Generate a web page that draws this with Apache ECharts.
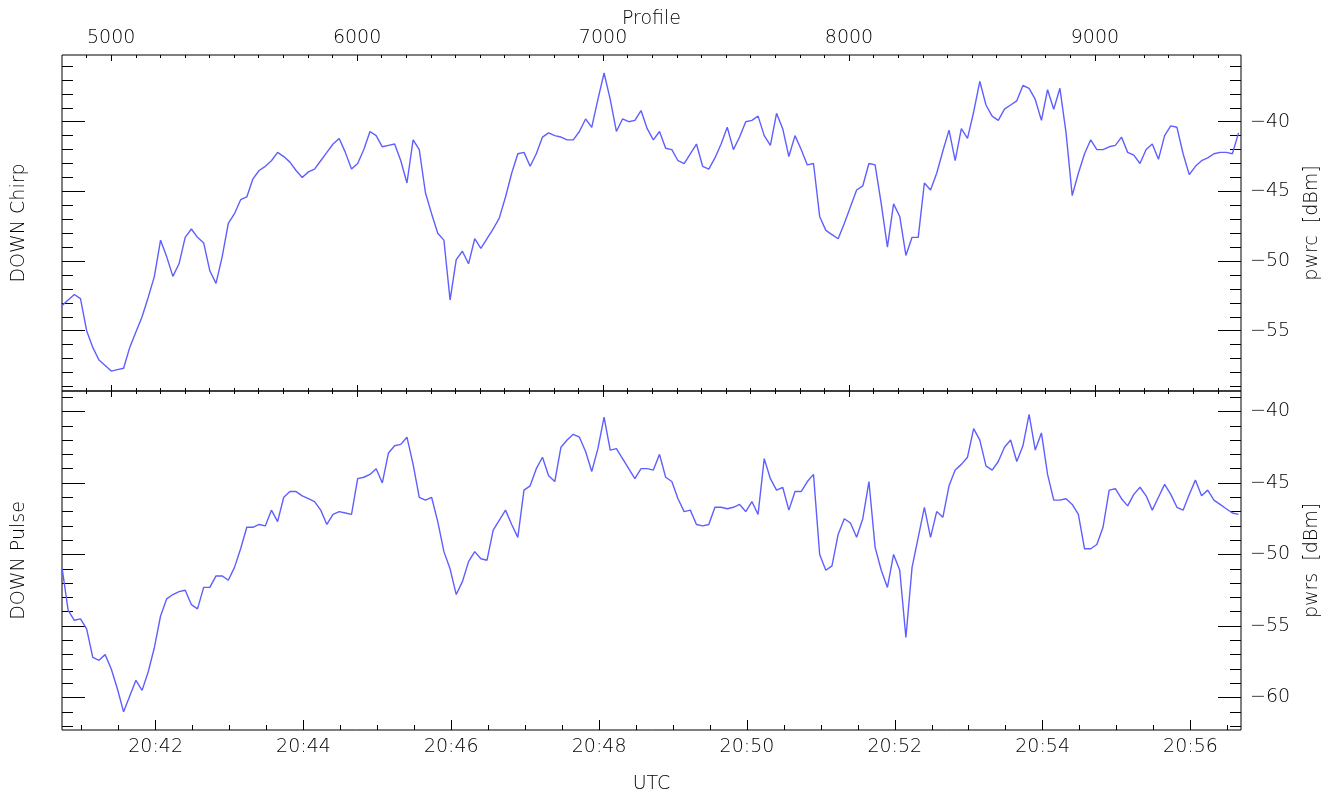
<!DOCTYPE html>
<html>
<head>
<meta charset="utf-8">
<title>DOWN Chirp / DOWN Pulse</title>
<script src="https://cdn.jsdelivr.net/npm/echarts@6.0.0/dist/echarts.min.js"></script>
<style>
  html, body { margin: 0; padding: 0; background: #fff; }
  #chart { width: 1337px; height: 797px; }
</style>
</head>
<body>
<div id="chart"></div>
<script>
// one value every 5 s, first sample at 20:40:44 UTC
const startSec = 20 * 3600 + 40 * 60 + 44;
const stepSec = 5;
const timeRange = [startSec, startSec + 957];
const profileRange = [4800, 9594];

const chirpDbm = [
  -53.2, -52.8, -52.4, -52.7, -55.0, -56.2, -57.1, -57.5, -57.9, -57.8,
  -57.7, -56.2, -55.1, -54.0, -52.6, -51.1, -48.5, -49.7, -51.1, -50.2,
  -48.3, -47.7, -48.3, -48.7, -50.7, -51.6, -49.7, -47.3, -46.6, -45.6,
  -45.4, -44.1, -43.5, -43.2, -42.8, -42.2, -42.5, -42.9, -43.5, -44.0,
  -43.6, -43.4, -42.8, -42.2, -41.6, -41.2, -42.2, -43.4, -43.0, -42.0,
  -40.7, -41.0, -41.8, -41.7, -41.6, -42.8, -44.4, -41.3, -42.0, -45.1,
  -46.6, -48.0, -48.5, -52.8, -49.9, -49.3, -50.2, -48.4, -49.1, -48.4,
  -47.7, -46.9, -45.4, -43.7, -42.3, -42.2, -43.2, -42.3, -41.1, -40.8,
  -41.0, -41.1, -41.3, -41.3, -40.7, -39.8, -40.4, -38.4, -36.5, -38.4,
  -40.7, -39.8, -40.0, -39.9, -39.2, -40.5, -41.3, -40.7, -41.9, -42.0,
  -42.8, -43.0, -42.3, -41.6, -43.2, -43.4, -42.6, -41.6, -40.4, -42.0,
  -41.1, -40.0, -39.9, -39.6, -41.0, -41.7, -39.4, -40.5, -42.5, -41.0,
  -42.0, -43.1, -43.0, -46.8, -47.8, -48.1, -48.4, -47.3, -46.1, -44.9,
  -44.6, -43.0, -43.1, -45.9, -49.0, -45.9, -46.8, -49.6, -48.3, -48.3,
  -44.4, -44.9, -43.7, -42.1, -40.6, -42.8, -40.5, -41.2, -39.3, -37.1,
  -38.8, -39.6, -39.9, -39.1, -38.8, -38.5, -37.4, -37.6, -38.4, -39.9,
  -37.7, -39.1, -37.6, -40.8, -45.3, -43.7, -42.3, -41.3, -42.0, -42.0,
  -41.8, -41.7, -41.1, -42.2, -42.4, -43.0, -42.0, -41.6, -42.7, -41.0,
  -40.3, -40.4, -42.3, -43.8, -43.2, -42.8, -42.6, -42.3, -42.2, -42.2,
  -42.3, -40.8
];

const pulseDbm = [
  -50.9, -53.9, -54.6, -54.5, -55.2, -57.2, -57.4, -57.0, -58.0, -59.4,
  -61.0, -59.9, -58.8, -59.5, -58.2, -56.5, -54.3, -53.1, -52.8, -52.6,
  -52.5, -53.5, -53.8, -52.3, -52.3, -51.5, -51.5, -51.8, -50.9, -49.6,
  -48.1, -48.1, -47.9, -48.0, -46.9, -47.7, -46.0, -45.6, -45.6, -45.9,
  -46.1, -46.3, -46.9, -47.9, -47.2, -47.0, -47.1, -47.2, -44.7, -44.6,
  -44.4, -44.0, -45.0, -42.9, -42.4, -42.3, -41.8, -43.7, -46.0, -46.2,
  -46.0, -47.7, -49.8, -51.0, -52.8, -51.9, -50.5, -49.8, -50.3, -50.4,
  -48.3, -47.6, -46.9, -47.9, -48.8, -45.5, -45.2, -44.0, -43.2, -44.5,
  -44.9, -42.5, -42.0, -41.6, -41.8, -42.8, -44.2, -42.6, -40.4, -42.7,
  -42.6, -43.3, -44.0, -44.7, -44.0, -44.0, -44.1, -43.0, -44.6, -44.9,
  -46.1, -47.0, -46.9, -47.9, -48.0, -47.9, -46.7, -46.7, -46.8, -46.7,
  -46.5, -47.0, -46.3, -47.2, -43.3, -44.7, -45.5, -45.3, -46.9, -45.6,
  -45.6, -44.9, -44.4, -50.0, -51.1, -50.8, -48.6, -47.5, -47.8, -48.8,
  -47.5, -44.9, -49.5, -51.1, -52.3, -50.0, -51.1, -55.8, -50.9, -48.8,
  -46.7, -48.8, -47.0, -47.4, -45.2, -44.1, -43.7, -43.2, -41.2, -42.0,
  -43.8, -44.1, -43.5, -42.5, -42.0, -43.5, -42.4, -40.2, -42.7, -41.5,
  -44.4, -46.2, -46.2, -46.1, -46.5, -47.2, -49.6, -49.6, -49.3, -48.1,
  -45.5, -45.4, -46.1, -46.6, -45.8, -45.3, -45.9, -46.9, -46.0, -45.1,
  -45.8, -46.7, -46.9, -45.8, -44.8, -45.9, -45.5, -46.2, -46.5, -46.8,
  -47.1, -47.2
];

const profileLabels = [5000, 6000, 7000, 8000, 9000];
const timeLabels = ["20:42", "20:44", "20:46", "20:48", "20:50", "20:52", "20:54", "20:56"];
const chirpLabels = [-55, -50, -45, -40];
const pulseLabels = [-60, -55, -50, -45, -40];
const chirpRange = [-59.33, -35.21];
const pulseRange = [-62.27, -38.57];

const FONT = "DejaVu Sans";
const TXT = "#000";
const LINE = "#5f5fff";

function steps(from, to, step) {
  const out = [];
  for (let v = from; v <= to + 1e-9; v += step) out.push(v);
  return out;
}
const toSec = (s) => { const [h, m] = s.split(":").map(Number); return h * 3600 + m * 60; };
const timeMajor = timeLabels.map(toSec);
const timeMinor = steps(toSec("20:41"), timeRange[1], 30);
const profileMinor = steps(4900, 9500, 100);

const fmtTime = (v) => {
  const h = Math.floor(v / 3600), m = Math.round((v % 3600) / 60);
  return h + ":" + String(m).padStart(2, "0");
};
const fmtDbm = (v) => "\u2212" + Math.abs(v);

function axis(base, ticks, len, label) {
  return Object.assign({
    type: "value",
    axisLine: { show: false },
    splitLine: { show: false },
    axisTick: {
      show: true, inside: true, length: len, customValues: ticks,
      lineStyle: { color: "#000", width: 1 }
    },
    axisLabel: label
      ? Object.assign({ show: true, color: TXT, fontSize: 19, fontFamily: FONT, fontWeight: 200 }, label)
      : { show: false },
    nameTextStyle: { color: TXT, fontSize: 19, fontFamily: FONT, fontWeight: 200 }
  }, base);
}

const xAxes = [
  // data axis of the upper panel
  { type: "value", gridIndex: 0, min: timeRange[0], max: timeRange[1], show: false },
  // time axis under the lower panel
  axis({ gridIndex: 1, position: "bottom", min: timeRange[0], max: timeRange[1],
         name: "UTC", nameLocation: "middle", nameGap: 45 },
       timeMajor, 10, { customValues: timeMajor, formatter: fmtTime, margin: 8 }),
  axis({ gridIndex: 1, position: "bottom", min: timeRange[0], max: timeRange[1] }, timeMinor, 5),
  // profile axis on top
  axis({ gridIndex: 0, position: "top", min: profileRange[0], max: profileRange[1],
         name: "Profile", nameLocation: "middle", nameGap: 26 },
       profileLabels, 6, { customValues: profileLabels, formatter: (v) => String(v), margin: 7 }),
  axis({ gridIndex: 0, position: "top", min: profileRange[0], max: profileRange[1] }, profileMinor, 3),
  // profile ticks along the shared edge
  axis({ gridIndex: 0, position: "bottom", min: profileRange[0], max: profileRange[1] }, profileLabels, 6),
  axis({ gridIndex: 0, position: "bottom", min: profileRange[0], max: profileRange[1] }, profileMinor, 3),
  axis({ gridIndex: 1, position: "top", min: profileRange[0], max: profileRange[1] }, profileLabels, 6),
  axis({ gridIndex: 1, position: "top", min: profileRange[0], max: profileRange[1] }, profileMinor, 3)
];

function yPair(grid, range, labels, leftName, rightName) {
  const minor = steps(Math.ceil(range[0]), Math.floor(range[1]), 1);
  const base = { gridIndex: grid, min: range[0], max: range[1] };
  return [
    axis(Object.assign({ position: "left", name: leftName, nameLocation: "middle",
                         nameRotate: 90, nameGap: 33 }, base), labels, 23),
    axis(Object.assign({ position: "left" }, base), minor, 11),
    axis(Object.assign({ position: "right", name: rightName, nameLocation: "middle",
                         nameRotate: 90, nameGap: 62 }, base),
         labels, 23, { customValues: labels, formatter: fmtDbm, margin: 9 }),
    axis(Object.assign({ position: "right" }, base), minor, 11)
  ];
}

const yAxes = [].concat(
  yPair(0, chirpRange, chirpLabels, "DOWN Chirp", "pwrc  [dBm]"),
  yPair(1, pulseRange, pulseLabels, "DOWN Pulse", "pwrs  [dBm]")
);

const chart = echarts.init(document.getElementById("chart"));
chart.setOption({
  animation: false,
  backgroundColor: "#fff",
  grid: [
    { left: 62, right: 96, top: 55, height: 336, show: true, borderColor: "#000", borderWidth: 1 },
    { left: 62, right: 96, top: 391, height: 339, show: true, borderColor: "#000", borderWidth: 1 }
  ],
  xAxis: xAxes,
  yAxis: yAxes,
  series: [
    {
      name: "pwrc", type: "line", xAxisIndex: 0, yAxisIndex: 0,
      showSymbol: false, lineStyle: { color: LINE, width: 1.4 },
      data: chirpDbm.map((v, i) => [startSec + i * stepSec, v])
    },
    {
      name: "pwrs", type: "line", xAxisIndex: 1, yAxisIndex: 4,
      showSymbol: false, lineStyle: { color: LINE, width: 1.4 },
      data: pulseDbm.map((v, i) => [startSec + i * stepSec, v])
    }
  ]
});
window.addEventListener("resize", () => chart.resize());
</script>
</body>
</html>
